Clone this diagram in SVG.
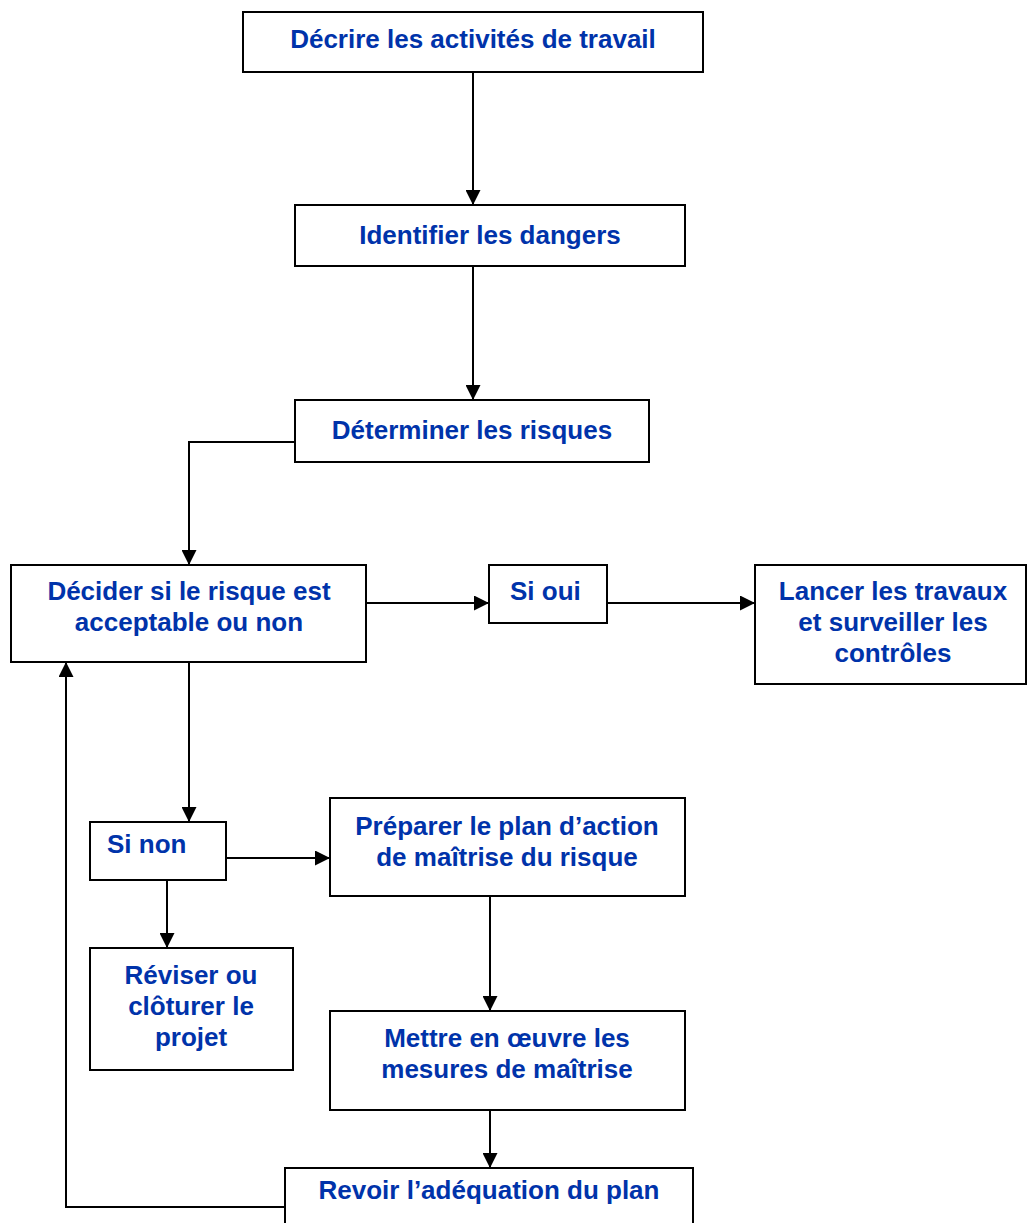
<svg xmlns="http://www.w3.org/2000/svg" width="1027" height="1223" viewBox="0 0 1027 1223">
<style>
.box{fill:#fff;stroke:#000;stroke-width:2}
.t{font-family:"Liberation Sans",Arial,sans-serif;font-weight:bold;font-size:26px;fill:#0033AA;text-anchor:middle}
.s{text-anchor:start}
.c{fill:none;stroke:#000;stroke-width:2}
</style>
<defs>
<marker id="ah" markerWidth="15" markerHeight="15" refX="15" refY="7.5" orient="auto" markerUnits="userSpaceOnUse">
<path d="M0,0 L15,7.5 L0,15 Z" fill="#000"/>
</marker>
</defs>
<rect width="1027" height="1223" fill="#fff"/>
<g id="connectors">
<path class="c" d="M473,72 V205" marker-end="url(#ah)"/>
<path class="c" d="M473,266 V400" marker-end="url(#ah)"/>
<path class="c" d="M295,442 H189 V565" marker-end="url(#ah)"/>
<path class="c" d="M366,603 H489" marker-end="url(#ah)"/>
<path class="c" d="M607,603 H755" marker-end="url(#ah)"/>
<path class="c" d="M189,662 V822" marker-end="url(#ah)"/>
<path class="c" d="M226,858 H330" marker-end="url(#ah)"/>
<path class="c" d="M167,880 V948" marker-end="url(#ah)"/>
<path class="c" d="M490,896 V1011" marker-end="url(#ah)"/>
<path class="c" d="M490,1110 V1168" marker-end="url(#ah)"/>
<path class="c" d="M285,1207 H66 V662" marker-end="url(#ah)"/>
</g>
<g id="n1"><rect class="box" x="243" y="12" width="460" height="60"/><text class="t" x="473" y="48">Décrire les activités de travail</text></g>
<g id="n2"><rect class="box" x="295" y="205" width="390" height="61"/><text class="t" x="490" y="244">Identifier les dangers</text></g>
<g id="n3"><rect class="box" x="295" y="400" width="354" height="62"/><text class="t" x="472" y="439">Déterminer les risques</text></g>
<g id="n4"><rect class="box" x="11" y="565" width="355" height="97"/><text class="t" x="189" y="600">Décider si le risque est</text><text class="t" x="189" y="631">acceptable ou non</text></g>
<g id="n5"><rect class="box" x="489" y="565" width="118" height="58"/><text class="t s" x="510" y="600">Si oui</text></g>
<g id="n6"><rect class="box" x="755" y="565" width="271" height="119"/><text class="t" x="893" y="600">Lancer les travaux</text><text class="t" x="893" y="631">et surveiller les</text><text class="t" x="893" y="662">contrôles</text></g>
<g id="n7"><rect class="box" x="90" y="822" width="136" height="58"/><text class="t s" x="107" y="853">Si non</text></g>
<g id="n8"><rect class="box" x="330" y="798" width="355" height="98"/><text class="t" x="507" y="835">Préparer le plan d’action</text><text class="t" x="507" y="866">de maîtrise du risque</text></g>
<g id="n9"><rect class="box" x="90" y="948" width="203" height="122"/><text class="t" x="191" y="984">Réviser ou</text><text class="t" x="191" y="1015">clôturer le</text><text class="t" x="191" y="1046">projet</text></g>
<g id="n10"><rect class="box" x="330" y="1011" width="355" height="99"/><text class="t" x="507" y="1047">Mettre en œuvre les</text><text class="t" x="507" y="1078">mesures de maîtrise</text></g>
<g id="n11"><rect class="box" x="285" y="1168" width="408" height="60"/><text class="t" x="489" y="1199">Revoir l’adéquation du plan</text></g>
</svg>
